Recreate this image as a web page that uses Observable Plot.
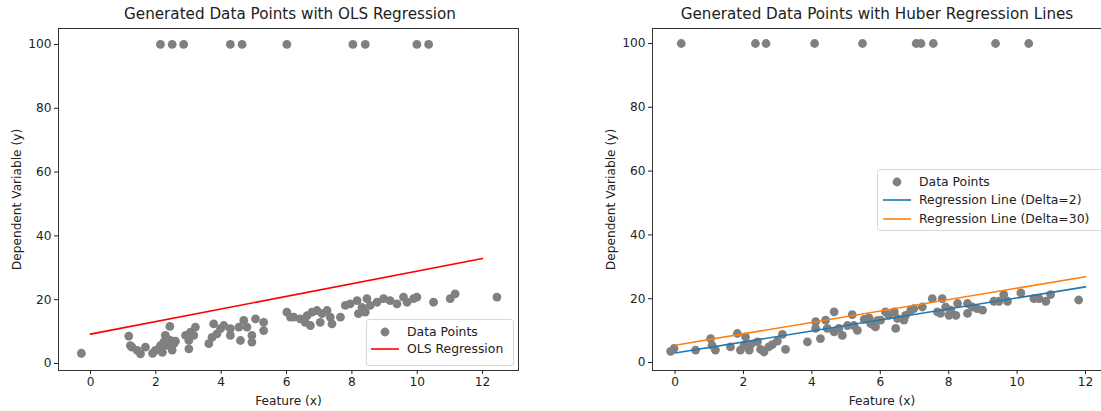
<!DOCTYPE html>
<html><head><meta charset="utf-8">
<script src="https://cdn.jsdelivr.net/npm/d3@7"></script>
<script src="https://cdn.jsdelivr.net/npm/@observablehq/plot@0.6"></script>
<style>
html,body{margin:0;padding:0;background:#fff;}
#wrap{position:relative;width:1101px;height:411px;overflow:hidden;font-family:"DejaVu Sans",sans-serif;color:#222;}
.panel{position:absolute;top:0;max-width:none !important;}
.title{position:absolute;top:5px;font-size:15.2px;white-space:nowrap;transform:translateX(-50%);color:#222;}
.legend{position:absolute;background:rgba(255,255,255,0.85);border:1px solid #d8d8d8;border-radius:3px;font-size:12.4px;color:#222;}
.legend .row{position:absolute;white-space:nowrap;line-height:15px;}
.legend svg{position:absolute;}
</style></head>
<body>
<div id="wrap"></div>
<script>
// ---------- data ----------
const xTicks = [0, 2, 4, 6, 8, 10, 12];
const yTicks = [0, 20, 40, 60, 80, 100];

// left panel (OLS) data points
const leftX = [-0.28,1.17,1.22,1.27,1.53,1.68,1.43,1.99,1.9,2.14,2.24,2.34,2.29,2.45,2.55,2.09,2.19,2.39,2.2,2.5,2.6,2.35,2.43,3.01,3.01,3.06,3.21,3.16,2.91,3.62,3.77,3.87,3.98,3.72,4.08,4.28,4.28,4.54,4.59,4.69,4.79,4.94,5.05,4.94,5.30,5.30,6.01,6.12,6.22,6.42,6.63,6.78,6.93,7.09,7.24,7.34,6.57,6.73,7.03,7.39,7.65,7.80,7.95,8.16,8.31,8.46,8.56,8.41,8.20,8.77,8.97,9.17,9.38,9.58,9.69,9.89,9.99,10.50,11.01,11.16,12.44,
  2.14,2.50,2.85,4.28,4.64,6.01,8.03,8.41,9.99,10.35];
const leftY = [3.2,8.6,5.6,5.1,3.0,5.1,4.1,4.1,3.2,5.6,6.7,7.7,8.8,7.2,6.2,4.6,5.1,5.6,3.5,4.2,7.0,6.0,11.6,4.6,7.2,9.8,11.4,8.8,8.8,6.2,12.4,9.3,10.9,8.2,11.9,10.9,8.8,11.4,7.2,13.5,11.4,6.7,14.0,8.8,12.9,10.3,16.1,14.5,14.5,14.0,15.0,16.1,16.6,15.6,16.6,14.5,12.9,11.9,12.9,12.4,14.5,18.2,18.7,19.7,17.6,20.3,18.2,16.1,15.6,19.2,20.3,19.7,18.7,20.8,19.2,20.3,20.8,19.2,20.3,21.8,20.8,
  100,100,100,100,100,100,100,100,100,100];
const olsLineX = [0, 12];
const olsLineY = [9.2, 32.9];

// right panel (Huber) data points
const rightX = [-0.13,-0.03,0.6,1.04,1.08,1.18,1.62,1.82,1.91,2.06,2.17,2.21,2.02,2.41,2.5,2.6,2.74,2.84,2.99,3.14,3.23,3.87,4.11,4.11,4.25,4.4,4.45,4.65,4.65,4.79,4.89,5.04,5.18,5.23,5.33,5.53,5.67,5.82,5.91,5.72,5.86,6.01,6.15,6.25,6.45,6.41,6.5,6.69,6.74,6.89,6.98,7.23,7.52,7.67,7.76,7.81,7.91,8.01,8.06,8.26,8.21,8.55,8.55,8.69,8.83,8.99,9.32,9.47,9.61,9.72,10.11,10.49,10.64,10.84,10.98,11.8,
  0.18,2.35,2.66,4.08,5.48,7.05,7.19,7.55,9.37,10.34];
const rightY = [3.5,4.4,3.9,7.5,5.4,3.9,4.9,9.1,3.9,8.0,3.9,5.6,5.4,6.5,4.1,3.3,4.9,5.6,6.7,8.8,4.1,6.5,12.8,10.7,7.5,13.3,10.7,15.9,9.6,10.7,8.5,11.6,15.0,11.6,10.1,13.5,14.0,11.6,13.1,12.2,11.2,13.3,15.9,14.8,10.7,15.9,13.8,13.3,14.8,16.4,16.9,17.4,20.0,15.9,15.4,20.0,17.4,14.8,16.4,18.5,14.8,18.5,15.4,17.4,16.9,16.4,19.2,19.2,21.3,19.2,21.8,20.0,20.0,19.2,21.3,19.6,
  100,100,100,100,100,100,100,100,100,100];
const huber2X = [0, 12];
const huber2Y = [3.0, 23.7];
const huber30X = [0, 12];
const huber30Y = [5.4, 26.9];

const FONT = "DejaVu Sans";
const GRAY = "#808080";
const FS = 12.2;

function zip(xs, ys) { return xs.map((x, i) => ({x, y: ys[i]})); }

function panel({width, marginLeft, marginRight, xDomain, yDomain, points, lines}) {
  return Plot.plot({
    width, height: 411,
    marginLeft, marginRight, marginTop: 28, marginBottom: 41,
    style: {fontFamily: FONT, fontSize: FS + "px", color: "#222", background: "transparent", maxWidth: "none"},
    x: {domain: xDomain},
    y: {domain: yDomain},
    marks: [
      Plot.dot(points, {x: "x", y: "y", r: 4.4, fill: GRAY, stroke: "none"}),
      ...lines.map(l => Plot.line(zip(l.x, l.y), {x: "x", y: "y", stroke: l.color, strokeWidth: 1.6})),
      Plot.frame({stroke: "#333", strokeWidth: 1}),
      Plot.axisX({ticks: xTicks, tickSize: 4, tickPadding: 3, tickFormat: d => d, label: "Feature (x)", labelAnchor: "center", labelOffset: 34, labelArrow: "none", fontSize: FS}),
      Plot.axisY({ticks: yTicks, tickSize: 4, tickPadding: 3, tickFormat: d => d, label: "Dependent Variable (y)", labelAnchor: "center", labelOffset: 46, labelArrow: "none", fontSize: FS})
    ]
  });
}

const wrap = document.getElementById("wrap");

const left = panel({
  width: 550, marginLeft: 58, marginRight: 32,
  xDomain: [-0.98, 13.1], yDomain: [-2.2, 105],
  points: zip(leftX, leftY),
  lines: [{x: olsLineX, y: olsLineY, color: "red"}]
});
left.classList.add("panel"); left.style.left = "0px";
wrap.appendChild(left);

const right = panel({
  width: 600, marginLeft: 92, marginRight: 49,
  xDomain: [-0.66, 12.76], yDomain: [-2.5, 104.7],
  points: zip(rightX, rightY),
  lines: [{x: huber2X, y: huber2Y, color: "#1f77b4"}, {x: huber30X, y: huber30Y, color: "#ff7f0e"}]
});
right.classList.add("panel"); right.style.left = "560px";
wrap.appendChild(right);

// titles
function addTitle(text, cx) {
  const t = document.createElement("div");
  t.className = "title"; t.textContent = text; t.style.left = cx + "px";
  wrap.appendChild(t);
}
addTitle("Generated Data Points with OLS Regression", 290);
addTitle("Generated Data Points with Huber Regression Lines", 877);

// legends
function addLegend(box, entries) {
  const lg = document.createElement("div");
  lg.className = "legend";
  Object.assign(lg.style, {left: box.left + "px", top: box.top + "px", width: box.w + "px", height: box.h + "px"});
  entries.forEach((e, i) => {
    const cy = box.first + i * box.step;
    const s = document.createElementNS("http://www.w3.org/2000/svg", "svg");
    s.setAttribute("width", 30); s.setAttribute("height", 12);
    s.style.left = box.symX + "px"; s.style.top = (cy - 6) + "px";
    if (e.type === "dot") {
      s.innerHTML = `<circle cx="15" cy="6" r="4.4" fill="${GRAY}"/>`;
    } else {
      s.innerHTML = `<line x1="1" x2="29" y1="6" y2="6" stroke="${e.color}" stroke-width="1.6"/>`;
    }
    lg.appendChild(s);
    const r = document.createElement("div");
    r.className = "row"; r.textContent = e.label;
    r.style.left = box.textX + "px"; r.style.top = (cy - 8) + "px";
    lg.appendChild(r);
  });
  wrap.appendChild(lg);
}
addLegend({left: 366, top: 319, w: 146, h: 45, first: 12, step: 17, symX: 3, textX: 40},
  [{type: "dot", label: "Data Points"}, {type: "line", color: "red", label: "OLS Regression"}]);
addLegend({left: 877, top: 169, w: 240, h: 60, first: 11.5, step: 18.7, symX: 4, textX: 41},
  [{type: "dot", label: "Data Points"}, {type: "line", color: "#1f77b4", label: "Regression Line (Delta=2)"}, {type: "line", color: "#ff7f0e", label: "Regression Line (Delta=30)"}]);
</script>
</body></html>
